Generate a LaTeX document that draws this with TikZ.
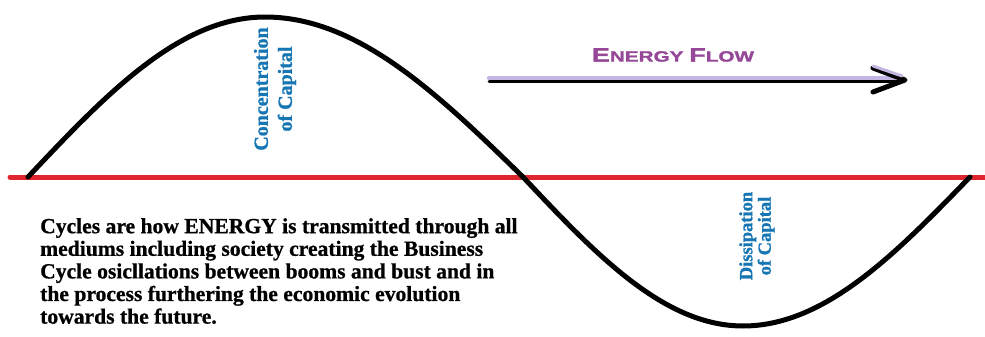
\documentclass[tikz,border=0pt]{standalone}
\usepackage{fontspec}
\newfontfamily\tnr[FakeBold=1.2]{Liberation Serif}
\newfontfamily\bodyfont[FakeBold=0.8]{Liberation Serif}
\newfontfamily\hsans[FakeStretch=1.38,FakeBold=1.5]{Liberation Sans}
\definecolor{axisred}{RGB}{222,38,44}
\definecolor{lav}{RGB}{196,182,226}
\definecolor{flowpurple}{RGB}{150,72,152}
\definecolor{capblue}{RGB}{22,118,180}
\begin{document}
\begin{tikzpicture}[x=1pt,y=-1pt,
  wave/.style={line width=5pt,black,line join=round,line cap=round},
  axisline/.style={line width=5pt,axisred,line cap=round},
  captext/.style={text=capblue,align=center,rotate=90,inner sep=0pt},
  bodytext/.style={font=\bodyfont\bfseries\fontsize{21.6}{22.6}\selectfont,align=left,inner sep=0pt,anchor=north west},
  flowtext/.style={text=flowpurple,font=\hsans\bfseries,inner sep=0pt}]
\useasboundingbox (0,0) rectangle (985,337);
% axis
\coordinate (axL) at (10,177);
\coordinate (axR) at (990,177);
\draw[axisline] (axL) -- (axR);
% wave
\draw[wave] plot[domain=28:265,samples=50] (\x,{177-160*sin((\x-28)/237*90)})
  -- plot[domain=265:523,samples=50] (\x,{177-160*cos((\x-265)/258*90)})
  -- plot[domain=523:743,samples=50] (\x,{177+149*sin((\x-523)/220*90)})
  -- plot[domain=743:970,samples=50] (\x,{177+149*cos((\x-743)/227*90)});
% energy flow arrow
\coordinate (fa) at (489,81);
\coordinate (fb) at (901,81);
\coordinate (la) at (489,78);
\coordinate (lb) at (895,78);
\coordinate (c1) at (873,68);
\coordinate (ct) at (905,80);
\coordinate (c2) at (873,92);
\coordinate (d1) at (873,66);
\coordinate (dt) at (902,76);
\draw[line width=3pt,black,line cap=round] (fa) -- (fb);
\draw[line width=4.5pt,lav,line cap=round] (la) -- (lb);
\draw[line width=5pt,black,line cap=round,line join=round] (c1) -- (ct) -- (c2);
\draw[line width=3pt,lav,line cap=round] (d1) -- (dt);
\node[flowtext] (flow) at (673,55) {{\fontsize{19.5}{19}\selectfont E}{\fontsize{15}{14}\selectfont NERGY}\hspace{2pt} {\fontsize{19.5}{19}\selectfont F}{\fontsize{15}{14}\selectfont LOW}};
% vertical labels
\node[captext,font=\tnr\bfseries\fontsize{20}{24}\selectfont] (conc) at (275,89) {Concentration\\of Capital};
\node[captext,font=\tnr\bfseries\fontsize{18.5}{18.5}\selectfont] (diss) at (757,236) {Dissipation\\of Capital};
% paragraph
\node[bodytext] (para) at (40,218) {Cycles are how ENERGY is transmitted through all\\
mediums including society creating the Business\\
Cycle osicllations between booms and bust and in\\
the process furthering the economic evolution\\
towards the future.};
\end{tikzpicture}
\end{document}
